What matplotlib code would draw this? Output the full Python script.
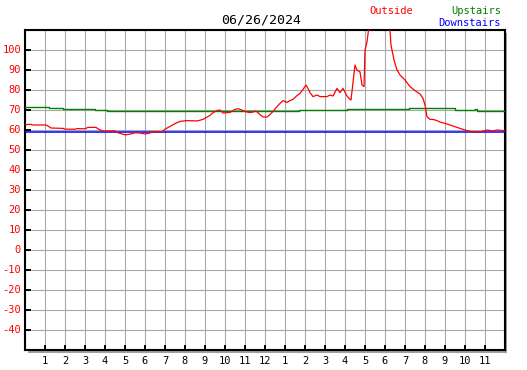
import matplotlib
matplotlib.use("Agg")
import matplotlib.pyplot as plt
from matplotlib.patches import Rectangle

# outside temperature (hour of day, deg F)
out_hours = [0.0, 0.15, 0.3, 0.4, 1.05, 1.15, 1.3, 1.9, 2.0, 2.5, 2.6, 3.0, 3.15, 3.55,
             3.7, 3.9, 4.35, 4.45, 4.6, 4.75, 5.0, 5.25, 5.5, 5.75, 6.0, 6.25, 6.4, 6.85,
             7.0, 7.25, 7.5, 7.75, 8.1, 8.4, 8.6, 8.9, 9.25, 9.4, 9.6, 9.75, 9.9, 10.25,
             10.5, 10.65, 10.9, 11.1, 11.25, 11.4, 11.55, 11.75, 11.9, 12.1, 12.25, 12.4,
             12.6, 12.75, 12.9, 13.1, 13.25, 13.4, 13.6, 13.75, 13.9, 14.05, 14.15, 14.25,
             14.4, 14.6, 14.75, 15.1, 15.25, 15.4, 15.6, 15.75, 15.9, 16.1, 16.25, 16.3,
             16.5, 16.6, 16.75, 16.85, 16.95, 17.0, 17.1, 17.2, 17.5, 17.75, 18.05, 18.25,
             18.3, 18.45, 18.6, 18.75, 19.0, 19.25, 19.5, 19.6, 19.75, 19.9, 20.0, 20.1,
             20.25, 20.4, 20.6, 20.75, 21.1, 21.4, 21.75, 22.1, 22.4, 22.75, 23.1, 23.4,
             23.6, 23.9, 24.0]
out_temp = [62.5, 62.8, 62.8, 62.5, 62.5, 62.0, 61.0, 60.8, 60.4, 60.4, 60.7, 60.6, 61.3, 61.3,
            60.3, 59.5, 59.5, 59.7, 58.8, 58.3, 57.6, 57.9, 58.6, 58.5, 58.0, 58.5, 59.2, 59.0,
            60.4, 61.8, 63.2, 64.3, 64.7, 64.6, 64.5, 65.3, 67.3, 68.7, 69.7, 70.0, 68.5, 68.8,
            70.3, 70.7, 69.7, 69.0, 68.7, 69.0, 69.5, 67.7, 66.5, 66.5, 67.7, 69.3,
            71.7, 73.3, 74.7, 73.8, 74.7, 75.3, 77.2, 78.3, 80.3, 82.5, 80.8, 78.7,
            76.7, 77.5, 76.7, 76.7, 77.5, 77.0, 80.8, 78.7, 80.8, 77.0, 75.3, 75.0,
            92.5, 90.0, 89.0, 82.5, 81.7, 100.0, 104.0, 112.0, 118.0, 120.0, 115.0, 110.0,
            102.5, 95.0, 90.0, 87.5, 85.0, 81.7, 79.7, 79.0, 78.0, 75.8, 72.5, 66.7,
            65.3, 65.3, 64.7, 64.0, 63.0, 62.0, 60.8, 59.7, 59.0, 59.0, 60.0, 59.5,
            60.0, 59.7, 59.7]

up_hours = [0.0, 1.2, 1.8, 1.9, 3.5, 4.1, 13.7, 16.1, 19.2, 21.5, 22.5, 22.6, 24.0]
up_temp = [71.3, 70.8, 71.0, 70.3, 69.8, 69.5, 69.8, 70.3, 70.8, 70.0, 70.4, 69.6, 69.6]

down_hours = [0.0, 24.0]
down_temp = [59.0, 59.0]

hour_ticks = list(range(1, 24))
hour_labels = [str(h) for h in range(1, 12)] + ["12"] + [str(h) for h in range(1, 12)]
temp_ticks = list(range(-40, 101, 10))

W, H = 527, 370
fig = plt.figure(figsize=(W / 100, H / 100), dpi=100)
fig.patch.set_facecolor("white")
mono = "DejaVu Sans Mono"

# drop shadow behind the plot box
fig.patches.append(Rectangle(((25 + 2.5) / W, (20 - 2.5) / H), 480 / W, 320 / H,
                             transform=fig.transFigure, facecolor="#a0a0a0",
                             edgecolor="none", zorder=0))

ax = fig.add_axes([25 / W, 20 / H, 480 / W, 320 / H])
ax.set_zorder(2)
ax.set_facecolor("white")
ax.set_xlim(0, 24)
ax.set_ylim(-50, 110)

ax.set_xticks(range(0, 25))
ax.set_yticks(range(-50, 111, 10))
ax.grid(True, color="#a8a8a8", linewidth=0.8)
ax.tick_params(length=0, labelleft=False, labelbottom=False)
for s in ax.spines.values():
    s.set_linewidth(1.5)
    s.set_color("black")

# inward tick marks and labels
for t in temp_ticks:
    ax.plot([0, 0.25], [t, t], color="black", lw=1.4, zorder=4)
    ax.text(-0.2, t, str(t), color="red", ha="right", va="center",
            fontsize=7.5, family=mono)
for h, lab in zip(hour_ticks, hour_labels):
    ax.plot([h, h], [-50, -48], color="black", lw=1.4, zorder=4)
    ax.text(h, -55.5, lab, color="black", ha="center", va="center",
            fontsize=7.5, family=mono)

ax.plot(down_hours, down_temp, color="blue", lw=1.1, zorder=3)
ax.plot(up_hours, up_temp, color="green", lw=1.0, drawstyle="steps-post", zorder=3)
ax.plot(out_hours, out_temp, color="red", lw=0.9, zorder=3)

fig.text(261 / W, 1 - 20 / H, "06/26/2024", ha="center", va="center",
         fontsize=9.5, family=mono)
fig.text(369 / W, 1 - 11 / H, "Outside", color="red", ha="left", va="center",
         fontsize=7.5, family=mono)
fig.text(501 / W, 1 - 11 / H, "Upstairs", color="green", ha="right", va="center",
         fontsize=7.5, family=mono)
fig.text(501 / W, 1 - 23 / H, "Downstairs", color="blue", ha="right", va="center",
         fontsize=7.5, family=mono)

fig.savefig("out.png", dpi=100)
